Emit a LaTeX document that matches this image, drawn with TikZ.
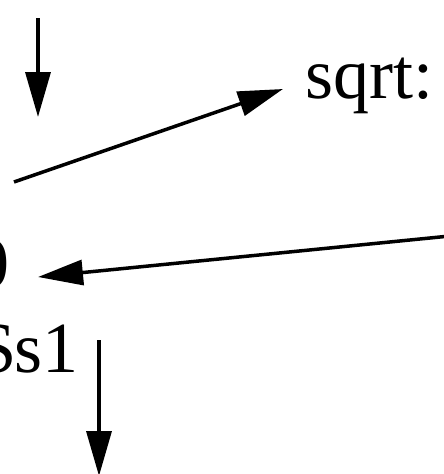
\documentclass[tikz,border=0pt]{standalone}
\usepackage{fontspec}
\setmainfont{Liberation Serif}
\usetikzlibrary{arrows.meta}
\begin{document}
\begin{tikzpicture}[x=1pt,y=-1pt,
  lbl/.style={inner sep=0pt, font=\fontsize{72}{86}\selectfont},
  edge/.style={line width=3.5pt, -{Triangle[length=45pt,width=25pt]}}]
\useasboundingbox (0,0) rectangle (444,474);
\clip (0,0) rectangle (444,474);
\node[lbl, anchor=base west] (sqrt) at (305,98) {sqrt:};
\node[lbl, anchor=base east] (zero) at (10,287) {0};
\node[lbl, anchor=base east] (s1) at (79,372) {\$s1};
\coordinate (topfrom) at (38,18);
\coordinate (topto) at (38,117);
\coordinate (sqrtfrom) at (14,182);
\coordinate (sqrtto) at (283,89);
\coordinate (longfrom) at (450,236);
\coordinate (longto) at (38,277);
\coordinate (botfrom) at (99,340);
\coordinate (botto) at (99,476);
\draw[edge] (topfrom) -- (topto);
\draw[edge] (sqrtfrom) -- (sqrtto);
\draw[edge] (longfrom) -- (longto);
\draw[edge] (botfrom) -- (botto);
\end{tikzpicture}
\end{document}
